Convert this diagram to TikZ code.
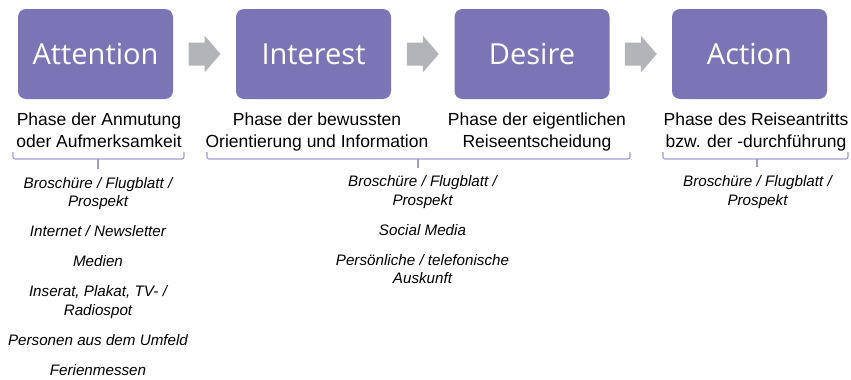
\documentclass[tikz,border=0pt]{standalone}
\usepackage{fontspec}
\setmainfont{Liberation Sans}
\newfontfamily\titlefont{Open Sans}
\usetikzlibrary{positioning,calc}

\definecolor{aidapurple}{RGB}{123,117,182}
\definecolor{arrowgray}{RGB}{178,180,183}
\definecolor{bracelilac}{RGB}{160,156,206}

\tikzset{
  phasebox/.style={rounded corners=8, fill=aidapurple, minimum width=155, minimum height=90,
    inner sep=0, text=white, font=\titlefont\fontsize{29}{34}\selectfont},
  phasetext/.style={align=center, anchor=base, inner sep=0, font=\fontsize{17.5}{21.5}\selectfont},
  medialist/.style={align=center, anchor=base, inner sep=0, font=\itshape\fontsize{15.2}{18.3}\selectfont},
  bracket/.style={draw=bracelilac, line width=1.1, rounded corners=2}
}

\begin{document}
\begin{tikzpicture}[x=1pt,y=-1pt]
\useasboundingbox (0,0) rectangle (851,380);
%---------------------Phase Boxes------------------%
\node[phasebox] (att) at (95.5,54) {Attention};
\node[phasebox] (int) at (313.5,54) {Interest};
\node[phasebox] (des) at (532,54) {Desire};
\node[phasebox] (act) at (749.5,54) {Action};
%--------------------------------------------------%

%---------------------Block Arrows------------------%
\foreach \a/\b in {att/int,int/des,des/act}{
  \coordinate (m) at ($(\a.east)!0.5!(\b.west)$);
  \fill[arrowgray] ($(m)+(-16,-11.5)$) -- ($(m)+(0,-11.5)$) -- ($(m)+(0,-18.5)$) -- ($(m)+(16,0)$)
    -- ($(m)+(0,18.5)$) -- ($(m)+(0,11.5)$) -- ($(m)+(-16,11.5)$) -- cycle;
}
%--------------------------------------------------%

%---------------------Phase Descriptions (placed by last line)------------------%
\node[phasetext] (attdesc) at (99,147) {Phase der Anmutung\\oder Aufmerksamkeit};
\node[phasetext] (intdesc) at (317,147) {Phase der bewussten\\Orientierung und Information};
\node[phasetext] (desdesc) at (537,147) {Phase der eigentlichen\\Reiseentscheidung};
\node[phasetext] (actdesc) at (756,147) {Phase des Reiseantritts\\bzw. der -durchf\"uhrung};
%--------------------------------------------------%

%---------------------Brackets------------------%
\draw[bracket] (13,152) -- (13,159) -- (184,159) -- (184,152);
\draw[bracket] (98,159) -- (98,169);
\draw[bracket] (207,152) -- (207,159) -- (630,159) -- (630,152);
\draw[bracket] (418,159) -- (418,168);
\draw[bracket] (663,152) -- (663,159) -- (848,159) -- (848,152);
\draw[bracket] (757,159) -- (757,167);
%--------------------------------------------------%

%---------------------Media Lists (placed by last line)------------------%
\node[medialist] (attmedia) at (98,375) {Brosch\"ure / Flugblatt /\\Prospekt\\[11.7pt]
  Internet / Newsletter\\[11.7pt]Medien\\[11.7pt]Inserat, Plakat, TV- /\\Radiospot\\[11.7pt]
  Personen aus dem Umfeld\\[11.7pt]Ferienmessen};
\node[medialist] (intmedia) at (422.5,283.3) {Brosch\"ure / Flugblatt /\\Prospekt\\[11.7pt]
  Social Media\\[11.7pt]Pers\"onliche / telefonische\\Auskunft};
\node[medialist] (actmedia) at (757.5,205) {Brosch\"ure / Flugblatt /\\Prospekt};
%--------------------------------------------------%
\end{tikzpicture}
\end{document}
